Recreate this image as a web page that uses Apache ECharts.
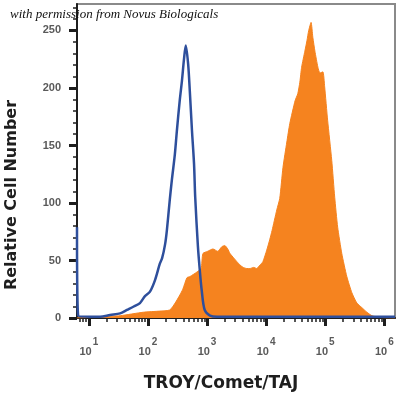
<!DOCTYPE html>
<html>
<head>
<meta charset="utf-8">
<script src="https://cdn.jsdelivr.net/npm/echarts@6/dist/echarts.min.js"></script>
<style>
    html, body { margin: 0; padding: 0; background: #fff; }
    #chart { width: 398px; height: 400px; }
</style>
</head>
<body>
<div id="chart"></div>
<script>
// x values are in decades (log10 of intensity)
const decades = [1, 2, 3, 4, 5, 6];
const yTicks = [0, 50, 100, 150, 200, 250];
const yMinorTicks = [10, 20, 30, 40, 60, 70, 80, 90, 110, 120, 130, 140, 160, 170, 180, 190, 210, 220, 230, 240, 260, 270];

// isotype control (blue outline)
const controlX = [0.80, 0.82, 1.02, 1.19, 1.36, 1.53, 1.645, 1.76, 1.865, 1.95, 2.035, 2.12, 2.2, 2.24, 2.29, 2.32,
    2.37, 2.405, 2.455, 2.49, 2.54, 2.575, 2.61, 2.64, 2.68, 2.71, 2.745, 2.78, 2.8, 2.846, 2.88, 2.91, 2.96, 3.05,
    3.17, 3.9, 5.0, 6.18];
const controlY = [79, 2, 1, 1, 2.6, 4, 7, 10, 13, 19, 23, 33, 47, 52, 64, 76,
    103, 120, 142, 163, 190, 206, 225, 237, 221, 196, 163, 134, 105, 62, 40, 24, 7, 2,
    1, 1, 1, 1];

// TROY/Comet/TAJ stained (orange fill)
const stainedX = [0.8, 1.19, 1.53, 1.92, 2.2, 2.37, 2.46, 2.54, 2.59, 2.66, 2.71, 2.83, 2.9, 2.93, 3.01, 3.1,
    3.18, 3.25, 3.3, 3.35, 3.39, 3.455, 3.505, 3.56, 3.61, 3.675, 3.725, 3.79, 3.84, 3.895, 3.945, 4.01,
    4.06, 4.1, 4.18, 4.23, 4.285, 4.35, 4.4, 4.49, 4.535, 4.57, 4.6, 4.655, 4.69, 4.72, 4.76, 4.79,
    4.825, 4.876, 4.91, 4.96, 4.99, 5.04, 5.11, 5.16, 5.21, 5.28, 5.365, 5.45, 5.535, 5.62, 5.705, 5.79,
    5.92, 6.18];
const stainedY = [0, 1, 2, 5, 6, 7, 13, 20, 25, 35, 36, 40, 43, 56, 58, 60,
    58, 62, 63, 60, 56, 52, 49, 46, 44, 43, 43, 44, 43, 46, 49, 59,
    68, 76, 94, 104, 131, 153, 169, 189, 195, 205, 218, 232, 241, 250, 257, 244,
    232, 218, 213, 214, 201, 172, 137, 105, 79, 56, 36, 22, 13, 9, 5, 2,
    0.5, 0];

const xMinorTicks = [];
[0, 1, 2, 3, 4, 5].forEach(d => {
    for (let k = 2; k <= 9; k++) {
        const v = d + Math.log10(k);
        if (v > 0.8 && v < 6.18) xMinorTicks.push(v);
    }
});

const zip = (xs, ys) => xs.map((x, i) => [x, ys[i]]);

const X_MIN = 0.8;
const X_MAX = 6.18;
const Y_MAX = 273;
const AXIS_COLOR = '#1e1e1e';
const LABEL_COLOR = '#5a5a5a';

const chart = echarts.init(document.getElementById('chart'), null, { renderer: 'canvas' });

chart.setOption({
    animation: false,
    backgroundColor: '#fff',
    grid: {
        left: 77,
        right: 3,
        top: 4,
        bottom: 82,
        show: true,
        borderColor: '#8a8a8a',
        borderWidth: 2
    },
    xAxis: [
        {
            type: 'value',
            position: 'bottom',
            min: X_MIN,
            max: X_MAX,
            splitLine: { show: false },
            axisLine: { show: true, onZero: false, lineStyle: { color: AXIS_COLOR, width: 2 } },
            axisTick: {
                show: true,
                customValues: decades,
                length: 8,
                lineStyle: { color: AXIS_COLOR, width: 3 }
            },
            axisLabel: {
                show: true,
                customValues: decades,
                margin: 19,
                formatter: v => '{b|10}{s|' + v + '}',
                rich: {
                    b: { fontSize: 11, color: LABEL_COLOR, fontFamily: 'Liberation Sans', fontWeight: 'bold', lineHeight: 20, verticalAlign: 'bottom' },
                    s: { fontSize: 10, color: LABEL_COLOR, fontFamily: 'Liberation Sans', fontWeight: 'bold', padding: [0, 0, 10, 1], verticalAlign: 'bottom' }
                }
            }
        },
        {
            type: 'value',
            position: 'bottom',
            min: X_MIN,
            max: X_MAX,
            splitLine: { show: false },
            axisLine: { show: false, onZero: false },
            axisTick: {
                show: true,
                customValues: xMinorTicks,
                length: 4,
                lineStyle: { color: AXIS_COLOR, width: 1.5 }
            },
            axisLabel: { show: false }
        }
    ],
    yAxis: [
        {
            type: 'value',
            position: 'left',
            min: 0,
            max: Y_MAX,
            splitLine: { show: false },
            axisLine: { show: true, onZero: false, lineStyle: { color: AXIS_COLOR, width: 2 } },
            axisTick: {
                show: true,
                customValues: yTicks,
                length: 8,
                lineStyle: { color: AXIS_COLOR, width: 3 }
            },
            axisLabel: {
                show: true,
                customValues: yTicks,
                margin: 16,
                color: LABEL_COLOR,
                fontSize: 11,
                fontWeight: 'bold',
                fontFamily: 'Liberation Sans'
            }
        },
        {
            type: 'value',
            position: 'left',
            min: 0,
            max: Y_MAX,
            splitLine: { show: false },
            axisLine: { show: false, onZero: false },
            axisTick: {
                show: true,
                customValues: yMinorTicks,
                length: 4,
                lineStyle: { color: AXIS_COLOR, width: 1.5 }
            },
            axisLabel: { show: false }
        }
    ],
    series: [
        {
            name: 'TROY/Comet/TAJ',
            type: 'line',
            xAxisIndex: 0,
            yAxisIndex: 0,
            data: zip(stainedX, stainedY),
            showSymbol: false,
            smooth: 0.2,
            lineStyle: { width: 1, color: '#f5831f' },
            areaStyle: { color: '#f5831f', opacity: 1 },
            z: 2
        },
        {
            name: 'Isotype control',
            type: 'line',
            xAxisIndex: 0,
            yAxisIndex: 0,
            data: zip(controlX, controlY),
            showSymbol: false,
            smooth: 0.3,
            lineStyle: { width: 2.5, color: '#2e4f9c' },
            z: 3
        }
    ],
    graphic: [
        {
            type: 'text',
            left: 10,
            top: 8,
            z: 100,
            style: {
                text: 'with permission from Novus Biologicals',
                fill: '#111',
                font: 'italic 13px "Liberation Serif"'
            }
        },
        {
            type: 'text',
            x: 221,
            y: 384,
            style: {
                text: 'TROY/Comet/TAJ',
                fill: '#1e1e1e',
                font: 'bold 17px "DejaVu Sans"',
                align: 'center',
                verticalAlign: 'middle'
            }
        },
        {
            type: 'text',
            x: 12,
            y: 195,
            rotation: Math.PI / 2,
            style: {
                text: 'Relative Cell Number',
                fill: '#1e1e1e',
                font: 'bold 16px "DejaVu Sans"',
                align: 'center',
                verticalAlign: 'middle'
            }
        }
    ]
});
</script>
</body>
</html>
